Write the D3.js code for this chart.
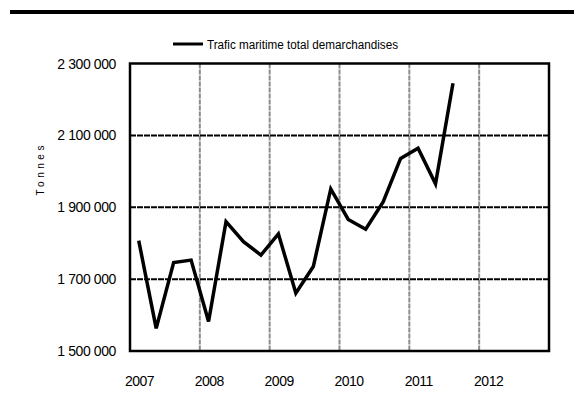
<!DOCTYPE html>
<html><head><meta charset="utf-8">
<script src="https://cdn.jsdelivr.net/npm/d3@7"></script>
<style>body{margin:0;background:#fff;}svg{display:block;font-family:"Liberation Sans",Arial,sans-serif;}</style>
</head><body>
<svg id="c" width="574" height="403"></svg>
<script>
const seriesName = "Trafic maritime total demarchandises";
const yAxisLabel = "Tonnes";
// quarterly values 2007 Q1 .. 2011 Q3
const quarters = ["2007T1","2007T2","2007T3","2007T4","2008T1","2008T2","2008T3","2008T4","2009T1","2009T2","2009T3","2009T4","2010T1","2010T2","2010T3","2010T4","2011T1","2011T2","2011T3"];
const values = [1807000,1563000,1746000,1753000,1582000,1860000,1804000,1767000,1826000,1661000,1735000,1951000,1866000,1839000,1915000,2036000,2064000,1965000,2245000];
const yearTicks = [2007,2008,2009,2010,2011,2012];
const yTicks = [1500000,1700000,1900000,2100000,2300000];

const svg = d3.select("#c");
const L=130, R=549, T=63.5, B=351;
const x = d3.scaleLinear().domain([2007,2013]).range([L,R]);
const y = d3.scaleLinear().domain([1500000,2300000]).range([B,T]);
const fmt = v => d3.format(",")(v).replace(/,/g," ");

// top bar
svg.append("rect").attr("x",10).attr("y",10).attr("width",564).attr("height",4).attr("fill","#000");

// vertical gridlines
svg.append("g").selectAll("line").data(yearTicks.slice(1)).join("line")
  .attr("x1",d=>x(d)).attr("x2",d=>x(d)).attr("y1",T).attr("y2",B)
  .attr("stroke","#8c8c8c").attr("stroke-width",2).attr("stroke-dasharray","5,1");
// horizontal gridlines
svg.append("g").selectAll("line").data(yTicks.slice(1,-1)).join("line")
  .attr("x1",L).attr("x2",R).attr("y1",d=>y(d)).attr("y2",d=>y(d))
  .attr("stroke","#000").attr("stroke-width",2).attr("stroke-dasharray","6,1");

// frame
svg.append("rect").attr("x",L).attr("y",T).attr("width",R-L).attr("height",B-T)
  .attr("fill","none").attr("stroke","#000").attr("stroke-width",2.5);

// y tick labels
svg.append("g").selectAll("text").data(yTicks).join("text")
  .attr("x",116).attr("y",d=>y(d)).attr("dy","0.36em").attr("text-anchor","end")
  .attr("font-size",14).attr("letter-spacing",-0.4).text(fmt);

// x labels
svg.append("g").selectAll("text").data(yearTicks).join("text")
  .attr("x",d=>x(d)+9.5).attr("y",386).attr("text-anchor","middle")
  .attr("font-size",14).attr("letter-spacing",-0.5).text(d=>d);

// y axis label
svg.append("text").attr("transform","translate(44,170.5) rotate(-90)")
  .attr("text-anchor","middle").attr("font-size",10)
  .attr("textLength",50).attr("lengthAdjust","spacing").text(yAxisLabel);

// series line
const qx = i => x(2007 + (i+0.5)/4);
svg.append("path").datum(values)
  .attr("d", d3.line().x((d,i)=>qx(i)).y(d=>y(d)))
  .attr("fill","none").attr("stroke","#000").attr("stroke-width",3.5).attr("stroke-linejoin","miter");

// legend
svg.append("line").attr("x1",173).attr("x2",203).attr("y1",44).attr("y2",44).attr("stroke","#000").attr("stroke-width",3);
svg.append("text").attr("x",207).attr("y",48.5).attr("font-size",12.5)
  .attr("textLength",191).attr("lengthAdjust","spacingAndGlyphs").text(seriesName);
</script>
</body></html>
